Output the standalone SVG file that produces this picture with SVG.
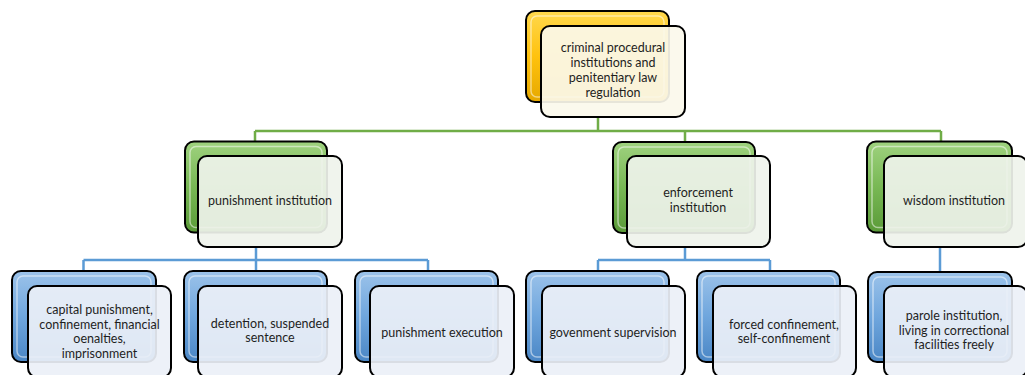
<svg xmlns="http://www.w3.org/2000/svg" width="1025" height="375" viewBox="0 0 1025 375">
<style>
.back{stroke:#000;stroke-width:2}
.front{stroke:#000;stroke-width:2;fill-opacity:0.92}
.fy{fill:#fbf8ec}
.fg{fill:#eff3ec}
.fb{fill:#ecf0f7}
.hl{fill:none;stroke:#fff;stroke-opacity:0.5;stroke-width:1.5}
.t{font-family:Lato,"Liberation Sans",sans-serif;font-size:12.5px;fill:#1e1e1e;text-anchor:middle}
.cg{fill:none;stroke:#70ad47;stroke-width:2.5}
.cb{fill:none;stroke:#5b9bd5;stroke-width:2.5}
</style>
<defs>
<linearGradient id="gy" x1="0" y1="0" x2="0" y2="1">
<stop offset="0" stop-color="#ffd84d"/><stop offset="0.5" stop-color="#ffc20e"/><stop offset="1" stop-color="#e6a800"/>
</linearGradient>
<linearGradient id="gg" x1="0" y1="0" x2="0" y2="1">
<stop offset="0" stop-color="#9fd27f"/><stop offset="0.5" stop-color="#78b854"/><stop offset="1" stop-color="#5a9a38"/>
</linearGradient>
<linearGradient id="gb" x1="0" y1="0" x2="0" y2="1">
<stop offset="0" stop-color="#9cc3ea"/><stop offset="0.5" stop-color="#6fa6dd"/><stop offset="1" stop-color="#4a86c5"/>
</linearGradient>
</defs>
<g id="connectors">
<path class="cg" d="M598 117V131M255 131H941M255 131V142M685 131V143M941 131V142"/>
<path class="cb" d="M256 247V260M83.5 260H428M83.5 260V271M256 260V271M428 260V271"/>
<path class="cb" d="M685 247V260M598 260H770M598 260V271M770 260V271"/>
<path class="cb" d="M940 247V272"/>
</g>
<g id="n0">
<rect class="back" x="526" y="11" width="143" height="91" rx="9" fill="url(#gy)"/>
<rect class="hl" x="531" y="16" width="133" height="81" rx="6"/>
<rect class="front fy" x="541" y="26" width="144" height="91" rx="9"/>
<text class="t" x="613" y="52">criminal procedural</text>
<text class="t" x="613" y="67">institutions and</text>
<text class="t" x="613" y="82">penitentiary law</text>
<text class="t" x="613" y="97">regulation</text>
</g>
<g id="n1">
<rect class="back" x="185" y="141.5" width="142" height="91" rx="9" fill="url(#gg)"/>
<rect class="hl" x="190" y="146.5" width="132" height="81" rx="6"/>
<rect class="front fg" x="198" y="156" width="144" height="91" rx="9"/>
<text class="t" x="270" y="205">punishment institution</text>
</g>
<g id="n2">
<rect class="back" x="613" y="142" width="142" height="91" rx="9" fill="url(#gg)"/>
<rect class="hl" x="618" y="147" width="132" height="81" rx="6"/>
<rect class="front fg" x="627" y="156" width="143" height="91" rx="9"/>
<text class="t" x="698" y="197">enforcement</text>
<text class="t" x="698" y="212">institution</text>
</g>
<g id="n3">
<rect class="back" x="867" y="141.5" width="145" height="91" rx="9" fill="url(#gg)"/>
<rect class="hl" x="872" y="146.5" width="135" height="81" rx="6"/>
<rect class="front fg" x="884" y="156" width="143" height="91" rx="9"/>
<text class="t" x="954" y="205">wisdom institution</text>
</g>
<g id="n4">
<rect class="back" x="12" y="271" width="144" height="91" rx="9" fill="url(#gb)"/>
<rect class="hl" x="17" y="276" width="134" height="81" rx="6"/>
<rect class="front fb" x="28" y="286" width="143" height="91" rx="9"/>
<text class="t" x="99.5" y="314">capital punishment,</text>
<text class="t" x="99.5" y="328.5">confinement, financial</text>
<text class="t" x="99.5" y="343">oenalties,</text>
<text class="t" x="99.5" y="357.5">imprisonment</text>
</g>
<g id="n5">
<rect class="back" x="184" y="271" width="143" height="91" rx="9" fill="url(#gb)"/>
<rect class="hl" x="189" y="276" width="133" height="81" rx="6"/>
<rect class="front fb" x="198" y="286" width="144" height="91" rx="9"/>
<text class="t" x="270" y="328">detention, suspended</text>
<text class="t" x="270" y="342">sentence</text>
</g>
<g id="n6">
<rect class="back" x="355" y="271" width="143" height="91" rx="9" fill="url(#gb)"/>
<rect class="hl" x="360" y="276" width="133" height="81" rx="6"/>
<rect class="front fb" x="370" y="286" width="144" height="91" rx="9"/>
<text class="t" x="442" y="337">punishment execution</text>
</g>
<g id="n7">
<rect class="back" x="526" y="271" width="143" height="91" rx="9" fill="url(#gb)"/>
<rect class="hl" x="531" y="276" width="133" height="81" rx="6"/>
<rect class="front fb" x="542" y="286" width="143" height="91" rx="9"/>
<text class="t" x="613" y="337">govenment supervision</text>
</g>
<g id="n8">
<rect class="back" x="697" y="271" width="143" height="91" rx="9" fill="url(#gb)"/>
<rect class="hl" x="702" y="276" width="133" height="81" rx="6"/>
<rect class="front fb" x="713" y="286" width="143" height="91" rx="9"/>
<text class="t" x="784" y="329">forced confinement,</text>
<text class="t" x="784" y="343">self-confinement</text>
</g>
<g id="n9">
<rect class="back" x="868" y="272" width="144" height="90" rx="9" fill="url(#gb)"/>
<rect class="hl" x="873" y="277" width="134" height="80" rx="6"/>
<rect class="front fb" x="884" y="286" width="143" height="91" rx="9"/>
<text class="t" x="954" y="320">parole institution,</text>
<text class="t" x="954" y="335">living in correctional</text>
<text class="t" x="954" y="349">facilities freely</text>
</g>
</svg>
